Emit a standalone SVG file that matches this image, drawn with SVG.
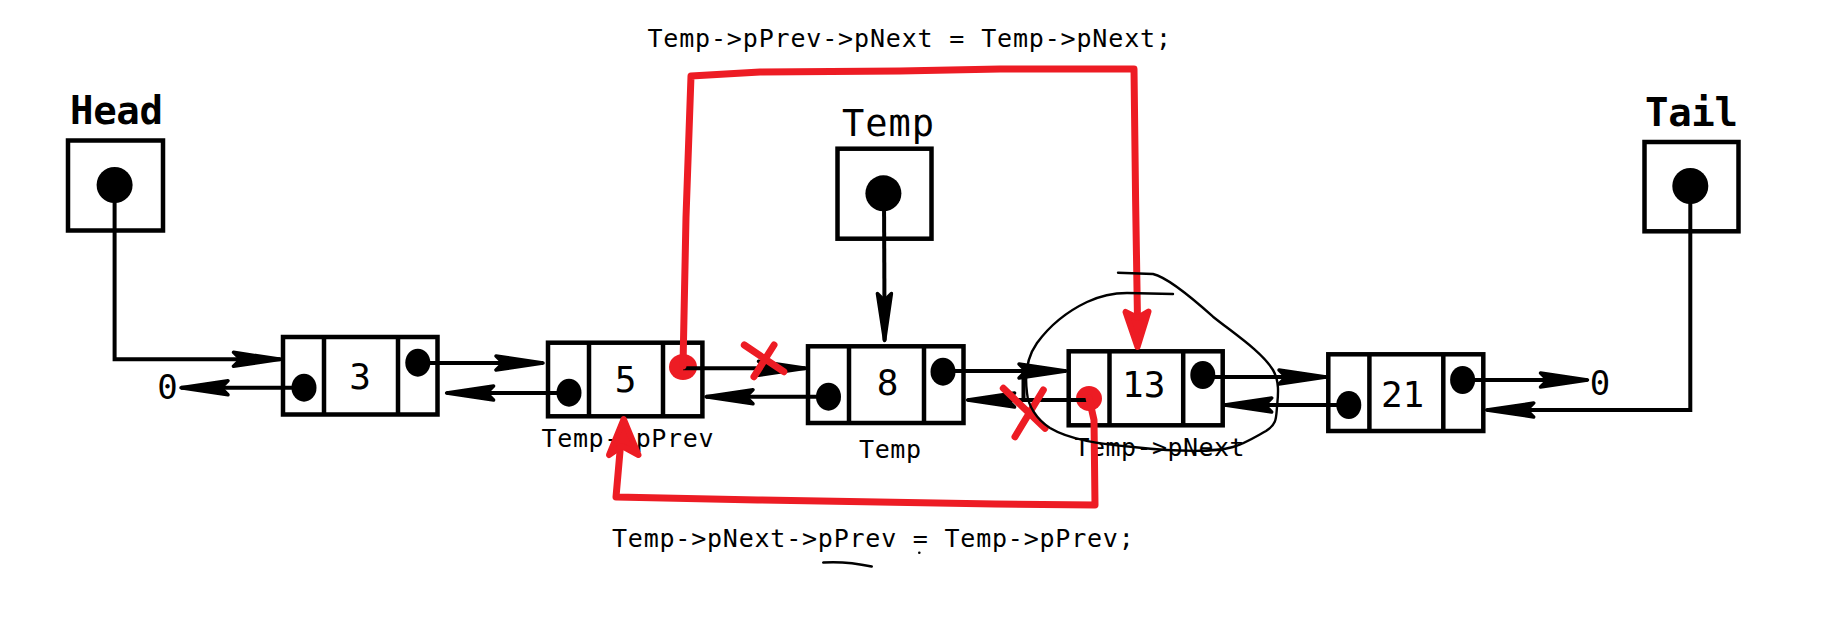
<svg xmlns="http://www.w3.org/2000/svg" width="1836" height="618" viewBox="0 0 1836 618">
<defs>
<style>
.box{fill:#fff;stroke:#000;stroke-width:4.5}
.div{stroke:#000;stroke-width:4.5}
.dot{fill:#000}
.rdot{fill:#ED1C24}
.num{font-family:"DejaVu Sans Mono","Liberation Mono",monospace;font-size:36px;fill:#000;text-anchor:middle}
.lbl{font-family:"DejaVu Sans Mono","Liberation Mono",monospace;font-size:25px;fill:#000}
.big{font-family:"DejaVu Sans Mono","Liberation Mono",monospace;font-size:39px;font-weight:bold;fill:#000}
.conn{fill:none;stroke:#000;stroke-width:4;marker-end:url(#arr)}
.red{fill:none;stroke:#ED1C24;stroke-width:7;stroke-linecap:round;stroke-linejoin:round}
.redh{fill:#ED1C24;stroke:#ED1C24;stroke-width:6;stroke-linecap:round;stroke-linejoin:round}
</style>
<marker id="arr" markerUnits="userSpaceOnUse" markerWidth="60" markerHeight="24" viewBox="-52 -12 60 24" refX="0" refY="0" orient="auto">
<path d="M0,0 L-47,-7 L-40,0 L-47,7 Z" fill="#000" stroke="#000" stroke-width="3.5" stroke-linejoin="round" stroke-linecap="round"/>
</marker>
</defs>
<rect width="1836" height="618" fill="#fff"/>

<g id="head">
<text class="big" x="70" y="124" textLength="93">Head</text>
<rect class="box" x="68" y="140.5" width="95" height="90"/>
<circle class="dot" cx="114.6" cy="185" r="18"/>
</g>
<g id="temp">
<text class="big" style="font-weight:normal;font-size:37px" x="842" y="136" textLength="92">Temp</text>
<rect class="box" x="837.5" y="148.7" width="94" height="90"/>
<circle class="dot" cx="883.4" cy="193.3" r="18"/>
</g>
<g id="tail">
<text class="big" x="1645" y="126" textLength="93">Tail</text>
<rect class="box" x="1644.5" y="142" width="94" height="89.3"/>
<circle class="dot" cx="1690.3" cy="186" r="18"/>
</g>

<g id="node3">
<rect class="box" x="283" y="337" width="154.5" height="77.5"/>
<line class="div" x1="324" y1="337" x2="324" y2="414.5"/>
<line class="div" x1="398" y1="337" x2="398" y2="414.5"/>
<text class="num" x="360" y="389">3</text>
<ellipse class="dot" cx="304" cy="387.7" rx="12.5" ry="14"/>
<ellipse class="dot" cx="417.8" cy="362.7" rx="12.5" ry="14"/>
</g>
<g id="node5">
<rect class="box" x="548" y="342.7" width="154.4" height="73.6"/>
<line class="div" x1="589" y1="342.7" x2="589" y2="416.3"/>
<line class="div" x1="663" y1="342.7" x2="663" y2="416.3"/>
<text class="num" x="625.7" y="391.7">5</text>
<ellipse class="dot" cx="569" cy="392.7" rx="12.5" ry="14"/>
<ellipse class="rdot" cx="683" cy="367" rx="14" ry="13"/>
<text class="lbl" x="541.5" y="446.7" textLength="172">Temp-&gt;pPrev</text>
</g>
<g id="node8">
<rect class="box" x="808" y="346.3" width="155.5" height="76.7"/>
<line class="div" x1="849" y1="346.3" x2="849" y2="423"/>
<line class="div" x1="924" y1="346.3" x2="924" y2="423"/>
<text class="num" x="887.7" y="395">8</text>
<ellipse class="dot" cx="828.5" cy="396.7" rx="12.5" ry="14"/>
<ellipse class="dot" cx="943" cy="371.7" rx="12.5" ry="14"/>
<text class="lbl" x="859" y="458.3" textLength="62">Temp</text>
</g>
<g id="node13">
<rect class="box" x="1068.7" y="351.3" width="154" height="74"/>
<line class="div" x1="1109.5" y1="351.3" x2="1109.5" y2="425.3"/>
<line class="div" x1="1183.2" y1="351.3" x2="1183.2" y2="425.3"/>
<text class="num" x="1143.7" y="397.3">13</text>
<ellipse class="rdot" cx="1089" cy="398.5" rx="13" ry="12.5"/>
<ellipse class="dot" cx="1202.8" cy="375" rx="12.5" ry="14"/>
<text class="lbl" x="1074.5" y="456" textLength="170">Temp-&gt;pNext</text>
</g>
<g id="node21">
<rect class="box" x="1328.3" y="354.3" width="155" height="76.7"/>
<line class="div" x1="1369.4" y1="354.3" x2="1369.4" y2="431"/>
<line class="div" x1="1443.3" y1="354.3" x2="1443.3" y2="431"/>
<text class="num" x="1402.6" y="407">21</text>
<ellipse class="dot" cx="1348.8" cy="405" rx="12.5" ry="14"/>
<ellipse class="dot" cx="1462.6" cy="380" rx="12.5" ry="14"/>
</g>

<g id="null-left"><text class="num" style="font-size:34px" x="167.5" y="399">0</text></g>
<g id="null-right"><text class="num" style="font-size:34px" x="1600" y="395">0</text></g>

<g id="connectors">
<polyline class="conn" points="114.6,185 114.6,359.3 280.5,359.3"/>
<line class="conn" x1="304" y1="387.7" x2="181" y2="387.7"/>
<line class="conn" x1="417.8" y1="363" x2="543" y2="363"/>
<line class="conn" x1="569" y1="393" x2="446.6" y2="393"/>
<line class="conn" x1="683" y1="368.3" x2="805.5" y2="368.3"/>
<line class="conn" x1="828.5" y1="396.7" x2="706" y2="396.7"/>
<line class="conn" x1="884" y1="193" x2="884.6" y2="340.5"/>
<line class="conn" x1="943" y1="371" x2="1066" y2="371"/>
<line class="conn" x1="1089" y1="400" x2="967.6" y2="400"/>
<line class="conn" x1="1203" y1="377" x2="1326" y2="377"/>
<line class="conn" x1="1348.8" y1="405" x2="1224.7" y2="405"/>
<line class="conn" x1="1462.6" y1="380" x2="1587.5" y2="380"/>
<polyline class="conn" points="1690.3,186 1690.3,410 1486.7,410"/>
<line x1="1023.5" y1="371" x2="1023.5" y2="400" stroke="#000" stroke-width="4"/>
</g>

<g id="annotations">
<path class="red" d="M683,366 L686,217 L691,76 L760,72 L900,71 L1000,69 L1134,69 L1135.6,200 L1137.5,320"/>
<path class="redh" d="M1125.5,312 L1137.5,347 L1148.5,311.5 L1137.5,318 Z"/>
<path class="red" d="M1089,398 L1094,420 L1095,505 L995,504 L758,500 L616,497 L621,440"/>
<path class="redh" d="M609,455 L623.7,419 L638.5,455 L622,446 Z"/>
<path class="red" d="M744.3,345 L783.8,371.7 M774,345 L754,376.7"/>
<path class="red" d="M1003.3,388.3 L1045,428.3 M1043.3,390 L1015,436.7"/>
<path fill="none" stroke="#000" stroke-width="2.4" stroke-linejoin="round" stroke-linecap="round" d="M1118,272.7 L1153,274 C1166,277 1190,296 1213,316.7 C1236,335 1262,352 1273,370 C1280,382 1278,396 1277,407 C1276,418 1277,424 1266,431 C1255,437 1244,444 1233,447 C1215,452 1180,452 1133,447 C1100,444 1070,440 1050,428 C1036,419 1028,405 1027,393 C1025,378 1025,360 1037,343 C1048,328 1066,312 1087,302 C1102,295 1116,293 1127,293 L1173,294"/>
<text class="lbl" x="647.4" y="46.7" textLength="523.6">Temp-&gt;pPrev-&gt;pNext = Temp-&gt;pNext;</text>
<text class="lbl" x="612" y="546.7" textLength="521.7">Temp-&gt;pNext-&gt;pPrev = Temp-&gt;pPrev;</text>
<path d="M823.3,562.5 Q846,561 871.7,566.5" fill="none" stroke="#000" stroke-width="2.6" stroke-linecap="round"/>
<circle cx="919.3" cy="552.7" r="1.3" fill="#000"/>
</g>
</svg>
